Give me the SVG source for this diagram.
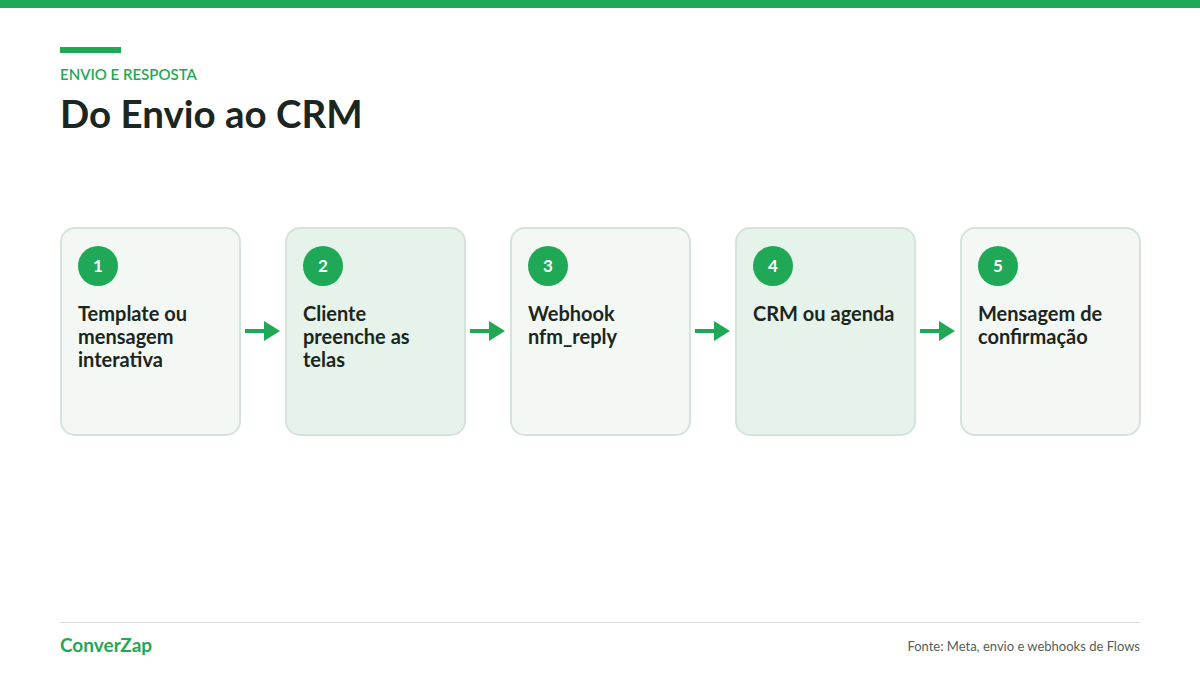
<svg xmlns="http://www.w3.org/2000/svg" width="1200" height="675" viewBox="0 0 1200 675">
<style>
.t{font-family:Lato,"Open Sans",sans-serif}
.box{stroke:#d5e3da;stroke-width:2}
.a{fill:#f3f8f4}.b{fill:#e6f3ea}
.num{font-family:Lato,sans-serif;font-weight:700;font-size:17px;fill:#fff;text-anchor:middle}
.lbl{font-family:Lato,sans-serif;font-weight:700;font-size:20px;fill:#1b2620}
.ar{stroke:#1fa855;stroke-width:4;fill:none}
</style>
<defs><marker id="h" markerWidth="4" markerHeight="5" refX="2" refY="2.5" orient="auto" markerUnits="strokeWidth"><path d="M0,0L4,2.5L0,5z" fill="#1fa855"/></marker></defs>
<rect width="1200" height="675" fill="#fff"/>
<rect width="1200" height="8" fill="#1fa855"/>
<rect x="60" y="47" width="61" height="6" fill="#1fa855"/>
<text x="60" y="80" class="t" font-size="15" font-weight="600" fill="#1fa855">ENVIO E RESPOSTA</text>
<text x="60" y="128" class="t" font-size="38.5" font-weight="700" fill="#1b2620">Do Envio ao CRM</text>
<g id="n1"><rect x="61" y="228" width="179" height="207" rx="14" class="box a"/><circle cx="98" cy="266" r="20" fill="#1fa855"/><text x="98" y="272" class="num">1</text><text class="lbl"><tspan x="78" y="321">Template ou</tspan><tspan x="78" y="344">mensagem</tspan><tspan x="78" y="367">interativa</tspan></text></g>
<g id="n2"><rect x="286" y="228" width="179" height="207" rx="14" class="box b"/><circle cx="323" cy="266" r="20" fill="#1fa855"/><text x="323" y="272" class="num">2</text><text class="lbl"><tspan x="303" y="321">Cliente</tspan><tspan x="303" y="344">preenche as</tspan><tspan x="303" y="367">telas</tspan></text></g>
<g id="n3"><rect x="511" y="228" width="179" height="207" rx="14" class="box a"/><circle cx="548" cy="266" r="20" fill="#1fa855"/><text x="548" y="272" class="num">3</text><text class="lbl"><tspan x="528" y="321">Webhook</tspan><tspan x="528" y="344">nfm_reply</tspan></text></g>
<g id="n4"><rect x="736" y="228" width="179" height="207" rx="14" class="box b"/><circle cx="773" cy="266" r="20" fill="#1fa855"/><text x="773" y="272" class="num">4</text><text class="lbl"><tspan x="753" y="321">CRM ou agenda</tspan></text></g>
<g id="n5"><rect x="961" y="228" width="179" height="207" rx="14" class="box a"/><circle cx="998" cy="266" r="20" fill="#1fa855"/><text x="998" y="272" class="num">5</text><text class="lbl"><tspan x="978" y="321">Mensagem de</tspan><tspan x="978" y="344">confirmação</tspan></text></g>
<g id="connectors">
<path d="M245 331H272" class="ar" marker-end="url(#h)"/>
<path d="M470 331H497" class="ar" marker-end="url(#h)"/>
<path d="M695 331H722" class="ar" marker-end="url(#h)"/>
<path d="M920 331H947" class="ar" marker-end="url(#h)"/>
</g>
<rect x="60" y="622" width="1080" height="1" fill="#d5dad7"/>
<text x="60" y="652" class="t" font-size="19" font-weight="700" fill="#1fa855">ConverZap</text>
<text x="1140" y="651" class="t" font-size="13" fill="#555e59" text-anchor="end">Fonte: Meta, envio e webhooks de Flows</text>
</svg>
